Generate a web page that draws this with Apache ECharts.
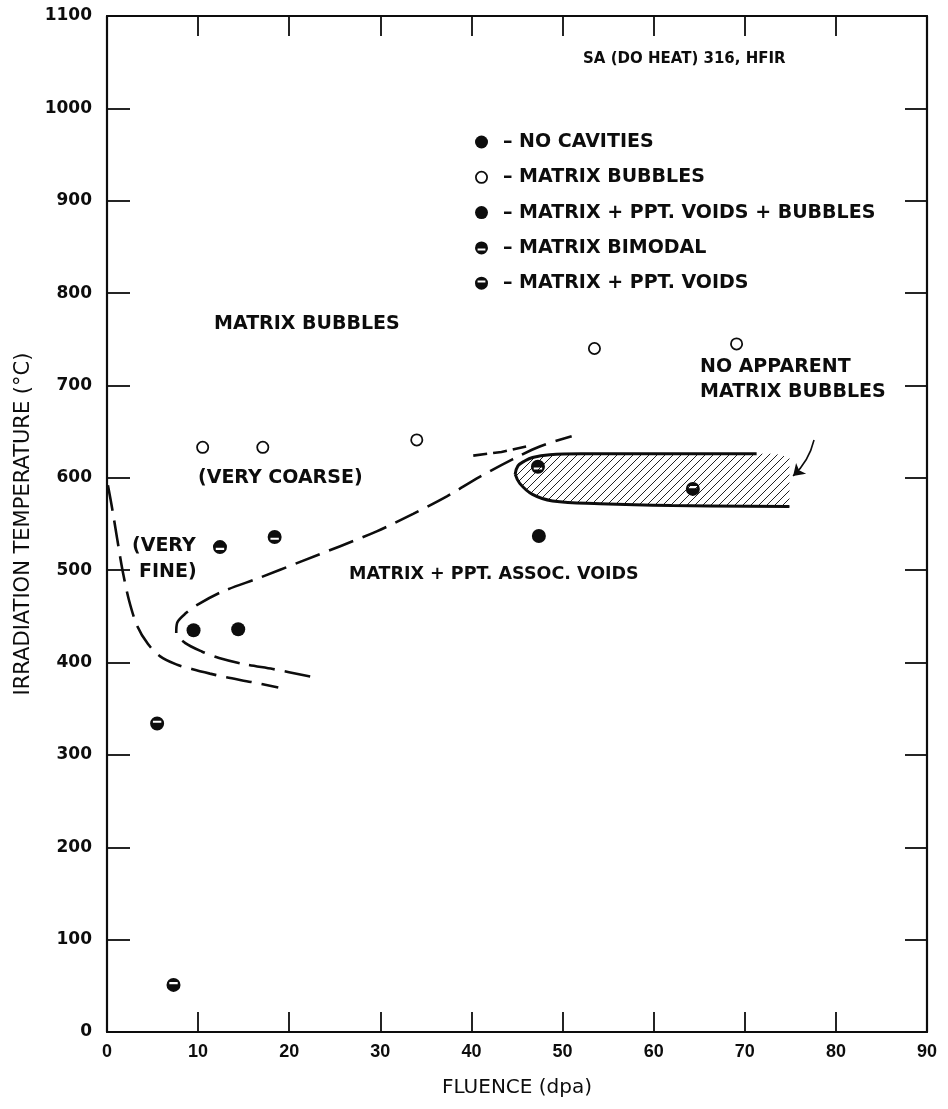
<!DOCTYPE html>
<html><head><meta charset="utf-8">
<script src="https://cdn.jsdelivr.net/npm/echarts@6/dist/echarts.min.js"></script>
<style>html,body{margin:0;padding:0;background:#fff}#c{width:948px;height:1109px}</style>
</head><body><div id="c"></div>
<script>
// ---- data ----
const xTicks = [0,10,20,30,40,50,60,70,80,90];
const yTicks = [0,100,200,300,400,500,600,700,800,900,1000,1100];
const seriesNames = ['NO CAVITIES','MATRIX BUBBLES','MATRIX + PPT. VOIDS + BUBBLES','MATRIX BIMODAL','MATRIX + PPT. VOIDS'];
const noCavities = [];
const matrixBubbles = [[10.5,633],[17.1,633],[34.0,641],[53.5,740],[69.1,745]];
const pptVoidsBubbles = [[9.5,435],[14.4,436],[47.4,537]];
const matrixBimodal = [[12.4,525],[18.4,536],[47.3,612]];
const pptVoids = [[5.5,334],[7.3,51],[64.3,588]];
// dashed boundary: very fine region
const veryFineCurve = [[0.1,592],[0.6,565],[1.1,535],[1.7,500],[2.4,468],[3.3,440],[4.5,420],[5.8,407],[7.6,398],[9.3,393],[11.3,388],[13.1,384],[15.8,379],[18.8,373]];
// dashed boundary: nose curve
const noseCurve = [[22.3,385],[18.2,393],[15.2,398],[12.3,405],[10.4,412],[8.6,421],[7.6,432],[7.7,443],[8.6,453],[10.0,463],[12.7,477],[16.8,492],[21.2,509],[25.6,526],[29.6,542],[33.6,561],[37.3,580],[40.9,601],[44.5,620],[47.5,634],[51.0,645]];
const shortSegment = [[40.2,624],[43.3,628],[46.0,634]];
// hatched region outline
const hatchTop = [[44.8,604],[45.1,613],[45.8,618],[46.7,622],[48.6,625],[52,626],[60,626],[71.3,626]];
const hatchBottom = [[44.8,604],[45.3,594],[46.7,582],[48.9,575],[54.1,572],[62,570],[74.9,569]];
const hatchFill = [[44.8,604],[45.1,613],[45.8,618],[46.7,622],[48.6,625],[52,626],[60,626],[73.3,626],[74.9,622],[74.9,569],[62,570],[54.1,572],[48.9,575],[46.7,582],[45.3,594]];
const arrowPath = [[77.6,641],[75.3,602]];

// ---- symbols ----
const circ = 'M0,10 A10,10 0 1,1 20,10 A10,10 0 1,1 0,10 Z';
const ringSym = 'path://' + circ + ' M2.7,10 A7.3,7.3 0 1,0 17.3,10 A7.3,7.3 0 1,0 2.7,10 Z';
const bimodalSym = 'path://' + circ + ' M4,11 L4,14 L16,14 L16,11 Z';
const pptVoidSym = 'path://' + circ + ' M4,6 L4,9 L16,9 L16,6 Z';

// hatch pattern
const pc = document.createElement('canvas');
pc.width = 8; pc.height = 8;
const g = pc.getContext('2d');
g.strokeStyle = '#222'; g.lineWidth = 1;
g.beginPath();
g.moveTo(-2,10); g.lineTo(10,-2);
g.moveTo(-2,2); g.lineTo(2,-2);
g.moveTo(6,10); g.lineTo(10,6);
g.stroke();

const INK = '#0d0d0d';
const FONT = 'DejaVu Sans';
const chart = echarts.init(document.getElementById('c'), null, {renderer:'canvas'});

function dashLine(data){
  return {type:'line', data:data, showSymbol:false, symbol:'none', smooth:0.3,
    lineStyle:{color:INK, width:2.6, type:[26,10]}, z:3, silent:true};
}
const annFont = 'bold 19px "DejaVu Sans"';

const option = {
  backgroundColor:'#fff',
  animation:false,
  textStyle:{fontFamily:FONT},
  grid:{left:107, right:21, top:16, bottom:77, containLabel:false, outerBoundsMode:'none'},
  xAxis:[{
    type:'value', min:0, max:90, interval:10, position:'bottom',
    axisLine:{show:true, onZero:false, lineStyle:{color:INK, width:2.2}},
    axisTick:{show:true, inside:true, length:20, lineStyle:{color:INK, width:1.8}},
    axisLabel:{color:INK, fontSize:18, fontWeight:'bold', margin:11, fontFamily:'Liberation Sans', formatter:v=>String(v)},
    splitLine:{show:false},
    name:'FLUENCE (dpa)', nameLocation:'middle', nameGap:46,
    nameTextStyle:{color:INK, fontSize:20, fontFamily:FONT}
  },{
    type:'value', min:0, max:90, interval:10, position:'top',
    axisLine:{show:true, onZero:false, lineStyle:{color:INK, width:2.2}},
    axisTick:{show:true, inside:true, length:20, lineStyle:{color:INK, width:1.8}},
    axisLabel:{show:false}, splitLine:{show:false}
  }],
  yAxis:[{
    type:'value', min:0, max:1100, interval:100, position:'left',
    axisLine:{show:true, onZero:false, lineStyle:{color:INK, width:2.2}},
    axisTick:{show:true, inside:true, length:23, lineStyle:{color:INK, width:1.8}},
    axisLabel:{color:INK, fontSize:17, fontWeight:'bold', margin:15, fontFamily:FONT, formatter:v=>String(v)},
    splitLine:{show:false},
    name:'IRRADIATION TEMPERATURE (°C)', nameLocation:'middle', nameGap:70, nameRotate:90,
    nameTextStyle:{color:INK, fontSize:21, fontFamily:FONT}
  },{
    type:'value', min:0, max:1100, interval:100, position:'right',
    axisLine:{show:true, onZero:false, lineStyle:{color:INK, width:2.2}},
    axisTick:{show:true, inside:true, length:22, lineStyle:{color:INK, width:1.8}},
    axisLabel:{show:false}, splitLine:{show:false}
  }],
  legend:{
    orient:'vertical', left:470, top:127, itemWidth:13, itemHeight:13, itemGap:15.3,
    selectedMode:false,
    textStyle:{color:INK, fontSize:19, fontWeight:'bold', fontFamily:FONT, lineHeight:20, padding:[0,0,0,10]},
    formatter:function(n){return '– ' + n;},
    data:[
      {name:seriesNames[0], icon:'circle', itemStyle:{color:INK, opacity:1}},
      {name:seriesNames[1], icon:ringSym, itemStyle:{color:INK, opacity:1}},
      {name:seriesNames[2], icon:'circle', itemStyle:{color:INK, opacity:1}},
      {name:seriesNames[3], icon:bimodalSym, itemStyle:{color:INK, opacity:1}},
      {name:seriesNames[4], icon:pptVoidSym, itemStyle:{color:INK, opacity:1}}
    ]
  },
  graphic:[
    {type:'text', x:583, y:52, style:{text:'SA (DO HEAT) 316, HFIR', fill:INK, font:'bold 15px "DejaVu Sans"'}},
    {type:'text', x:214, y:315, style:{text:'MATRIX BUBBLES', fill:INK, font:annFont}},
    {type:'text', x:198, y:469, style:{text:'(VERY COARSE)', fill:INK, font:annFont}},
    {type:'text', x:132, y:537, style:{text:'(VERY', fill:INK, font:annFont}},
    {type:'text', x:139, y:563, style:{text:'FINE)', fill:INK, font:annFont}},
    {type:'text', x:349, y:565, style:{text:'MATRIX + PPT. ASSOC. VOIDS', fill:INK, font:'bold 17.5px "DejaVu Sans"'}},
    {type:'text', x:700, y:358, style:{text:'NO APPARENT', fill:INK, font:annFont}},
    {type:'text', x:700, y:383, style:{text:'MATRIX BUBBLES', fill:INK, font:annFont}}
  ],
  series:[
    {
      type:'custom', name:'hatch', silent:true, z:2,
      renderItem:function(params, api){
        const pts = hatchFill.map(p => api.coord(p));
        return {type:'polygon', shape:{points:pts, smooth:0}, style:{fill:{image:pc, repeat:'repeat'}, stroke:null}};
      },
      data:[[0,0]]
    },
    {type:'line', data:hatchTop, showSymbol:false, symbol:'none', smooth:0.4, lineStyle:{color:INK, width:3}, z:3, silent:true},
    {type:'line', data:hatchBottom, showSymbol:false, symbol:'none', smooth:0.4, lineStyle:{color:INK, width:3}, z:3, silent:true},
    dashLine(veryFineCurve),
    dashLine(noseCurve),
    {type:'line', data:shortSegment, showSymbol:false, symbol:'none', lineStyle:{color:INK, width:2.6, type:[14,6]}, z:3, silent:true},
    {
      type:'lines', coordinateSystem:'cartesian2d', silent:true, z:4,
      symbol:['none','arrow'], symbolSize:11,
      lineStyle:{color:INK, width:1.6, opacity:1, curveness:0.15},
      data:[{coords:arrowPath}]
    },
    {name:seriesNames[0], type:'scatter', data:noCavities, symbol:'circle', symbolSize:11, itemStyle:{color:INK, opacity:1}, z:5},
    {name:seriesNames[1], type:'scatter', data:matrixBubbles, symbol:ringSym, symbolSize:13, itemStyle:{color:INK, opacity:1}, z:5},
    {name:seriesNames[2], type:'scatter', data:pptVoidsBubbles, symbol:'circle', symbolSize:14, itemStyle:{color:INK, opacity:1}, z:5},
    {name:seriesNames[3], type:'scatter', data:matrixBimodal, symbol:bimodalSym, symbolSize:14, itemStyle:{color:INK, opacity:1}, z:5},
    {name:seriesNames[4], type:'scatter', data:pptVoids, symbol:pptVoidSym, symbolSize:14, itemStyle:{color:INK, opacity:1}, z:5}
  ]
};
chart.setOption(option);
</script>
</body></html>
